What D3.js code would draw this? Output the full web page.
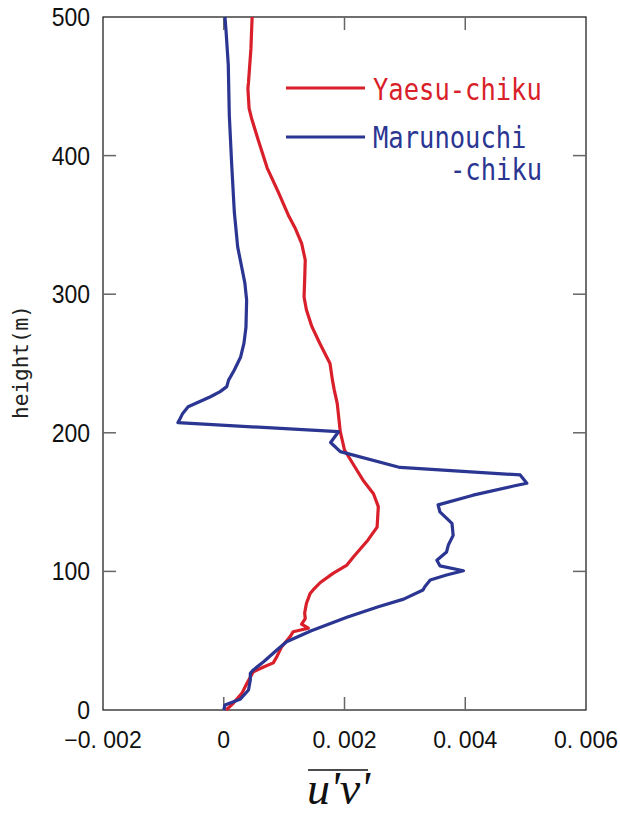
<!DOCTYPE html>
<html>
<head>
<meta charset="utf-8">
<script src="https://cdn.jsdelivr.net/npm/d3@7/dist/d3.min.js"></script>
<style>
html,body{margin:0;padding:0;background:#fff;}
svg{display:block;}
</style>
</head>
<body>
<svg id="chart" width="620" height="813"></svg>
<script>
// ---- data ----
const yaesuHeight = [0, 5, 12, 19, 27.6, 31, 34, 38.5, 45.7, 53, 56.5, 59, 62, 66, 70, 77, 84, 86.6, 92, 98.6, 104.6, 110.6, 122.7, 132, 146.7, 156, 165, 175.5, 187.6, 200.8, 221, 231, 238, 250, 264.6, 276.6, 288.6, 298, 310, 324.7, 336.7, 347, 357, 374, 391, 410, 427, 434, 448.5, 453, 477, 500];
const yaesuUV = [0.00004, 0.00016, 0.0003, 0.00038, 0.00049, 0.00066, 0.00082, 0.00088, 0.00096, 0.0011, 0.00115, 0.0014, 0.00129, 0.00135, 0.00134, 0.00137, 0.00143, 0.00148, 0.0016, 0.00181, 0.00204, 0.00215, 0.00239, 0.00254, 0.00256, 0.00248, 0.00232, 0.00217, 0.002, 0.00193, 0.00188, 0.00183, 0.0018, 0.00176, 0.00159, 0.00146, 0.00137, 0.00133, 0.00134, 0.00135, 0.00129, 0.00119, 0.00107, 0.0009, 0.00072, 0.00058, 0.00046, 0.00042, 0.0004, 0.00041, 0.00045, 0.00047];

const maruHeight = [0, 3.6, 7.7, 14.4, 21.6, 26.5, 28.9, 34.8, 43.3, 49.3, 57.2, 66.9, 74.5, 80, 86.6, 89, 93.8, 97.4, 100.5, 104, 108, 114, 119, 126, 134.7, 143, 148, 155, 161.6, 163.6, 169.6, 175, 186.4, 193, 200.8, 207.3, 210.5, 214, 218.8, 226, 229.7, 233.3, 238, 245.3, 254.7, 264.7, 276.2, 295.7, 308, 319.6, 334, 359.3, 393.2, 429.3, 465.4, 490.6, 500];
const maruUV = [0, 0.00002, 0.00027, 0.00041, 0.00044, 0.00044, 0.00049, 0.00066, 0.00088, 0.00104, 0.00145, 0.00204, 0.00256, 0.00298, 0.0033, 0.00333, 0.00342, 0.00369, 0.00397, 0.00358, 0.00353, 0.00369, 0.00372, 0.0038, 0.00378, 0.00358, 0.00355, 0.00413, 0.0048, 0.00502, 0.00491, 0.00292, 0.00193, 0.00177, 0.0019, -0.00076, -0.00072, -0.00068, -0.00059, -0.00022, -0.00006, 0.00005, 0.00008, 0.000175, 0.00028, 0.000335, 0.000368, 0.000379, 0.00035, 0.000297, 0.000231, 0.000175, 0.000132, 0.000092, 0.000075, 0.000037, 0.00002];

const xTicks = [-0.002, 0, 0.002, 0.004, 0.006];
const xTickLabels = ["\u22120. 002", "0", "0. 002", "0. 004", "0. 006"];
const yTicks = [0, 100, 200, 300, 400, 500];
const seriesNames = ["Yaesu-chiku", "Marunouchi"];
const seriesColors = ["#d81f2a", "#2b3592"];

// ---- layout ----
const svg = d3.select("#chart");
const L = 103, R = 586, T = 17, B = 710;
const x = d3.scaleLinear().domain([-0.002, 0.006]).range([L, R]);
const y = d3.scaleLinear().domain([0, 500]).range([B, T]);

// frame
svg.append("rect").attr("x", L).attr("y", T).attr("width", R - L).attr("height", B - T)
  .attr("fill", "none").attr("stroke", "#111").attr("stroke-width", 1.2);

// inward ticks
const tickLen = 13;
const tickColor = "#666";
const innerX = xTicks.filter(t => t > -0.002 && t < 0.006);
const innerY = yTicks.filter(t => t > 0 && t < 500);
innerX.forEach(t => {
  svg.append("line").attr("x1", x(t)).attr("x2", x(t)).attr("y1", B).attr("y2", B - tickLen)
    .attr("stroke", tickColor).attr("stroke-width", 1.5);
  svg.append("line").attr("x1", x(t)).attr("x2", x(t)).attr("y1", T).attr("y2", T + tickLen)
    .attr("stroke", tickColor).attr("stroke-width", 1.5);
});
innerY.forEach(t => {
  svg.append("line").attr("x1", L).attr("x2", L + tickLen).attr("y1", y(t)).attr("y2", y(t))
    .attr("stroke", tickColor).attr("stroke-width", 1.5);
  svg.append("line").attr("x1", R).attr("x2", R - tickLen).attr("y1", y(t)).attr("y2", y(t))
    .attr("stroke", tickColor).attr("stroke-width", 1.5);
});

// tick labels
const labelFont = "'Liberation Sans', Arial, sans-serif";
yTicks.forEach(t => {
  svg.append("text").attr("transform", `translate(90,${y(t) + 9}) scale(1,1.1)`)
    .attr("text-anchor", "end").attr("font-family", labelFont).attr("font-size", 23)
    .attr("fill", "#111").text(String(t));
});
xTicks.forEach((t, i) => {
  let px = x(t), anchor = "middle";
  if (i === xTicks.length - 1) { px = 618; anchor = "end"; }
  svg.append("text").attr("x", px).attr("y", 748).attr("text-anchor", anchor)
    .attr("font-family", labelFont).attr("font-size", 23).attr("fill", "#111")
    .text(xTickLabels[i]);
});

// axis titles
svg.append("text").attr("transform", "translate(28,362) rotate(-90)")
  .attr("text-anchor", "middle").attr("font-family", "'DejaVu Sans Mono', monospace")
  .attr("font-size", 21).attr("fill", "#222").text("height(m)");

svg.append("line").attr("x1", 308).attr("x2", 368).attr("y1", 770).attr("y2", 770)
  .attr("stroke", "#111").attr("stroke-width", 1.6);
svg.append("text").attr("x", 307).attr("y", 804)
  .attr("font-family", "'Liberation Serif', 'Times New Roman', serif").attr("font-style", "italic")
  .attr("font-size", 46).attr("fill", "#111").text("u'v'");

// lines
const line = d3.line().x(d => x(d[1])).y(d => y(d[0]));
const yaesu = yaesuHeight.map((h, i) => [h, yaesuUV[i]]);
const maru = maruHeight.map((h, i) => [h, maruUV[i]]);
[yaesu, maru].forEach((data, i) => {
  svg.append("path").datum(data).attr("d", line).attr("fill", "none")
    .attr("stroke", seriesColors[i]).attr("stroke-width", 3.2)
    .attr("stroke-linejoin", "round").attr("stroke-linecap", "butt");
});

// legend
const legFont = "'DejaVu Sans Mono', monospace";
const legRows = [{ y: 88, tx: 373, ty: 100 }, { y: 137, tx: 373, ty: 148 }];
legRows.forEach((r, i) => {
  svg.append("line").attr("x1", 286).attr("x2", 365).attr("y1", r.y).attr("y2", r.y)
    .attr("stroke", seriesColors[i]).attr("stroke-width", 3);
  svg.append("text").attr("transform", `translate(${r.tx},${r.ty}) scale(1,1.2)`)
    .attr("font-family", legFont).attr("font-size", 25.5).attr("fill", seriesColors[i])
    .text(seriesNames[i]);
});
svg.append("text").attr("transform", "translate(450,180) scale(1,1.2)")
  .attr("font-family", legFont).attr("font-size", 25.5).attr("fill", seriesColors[1])
  .text("-chiku");
</script>
</body>
</html>
